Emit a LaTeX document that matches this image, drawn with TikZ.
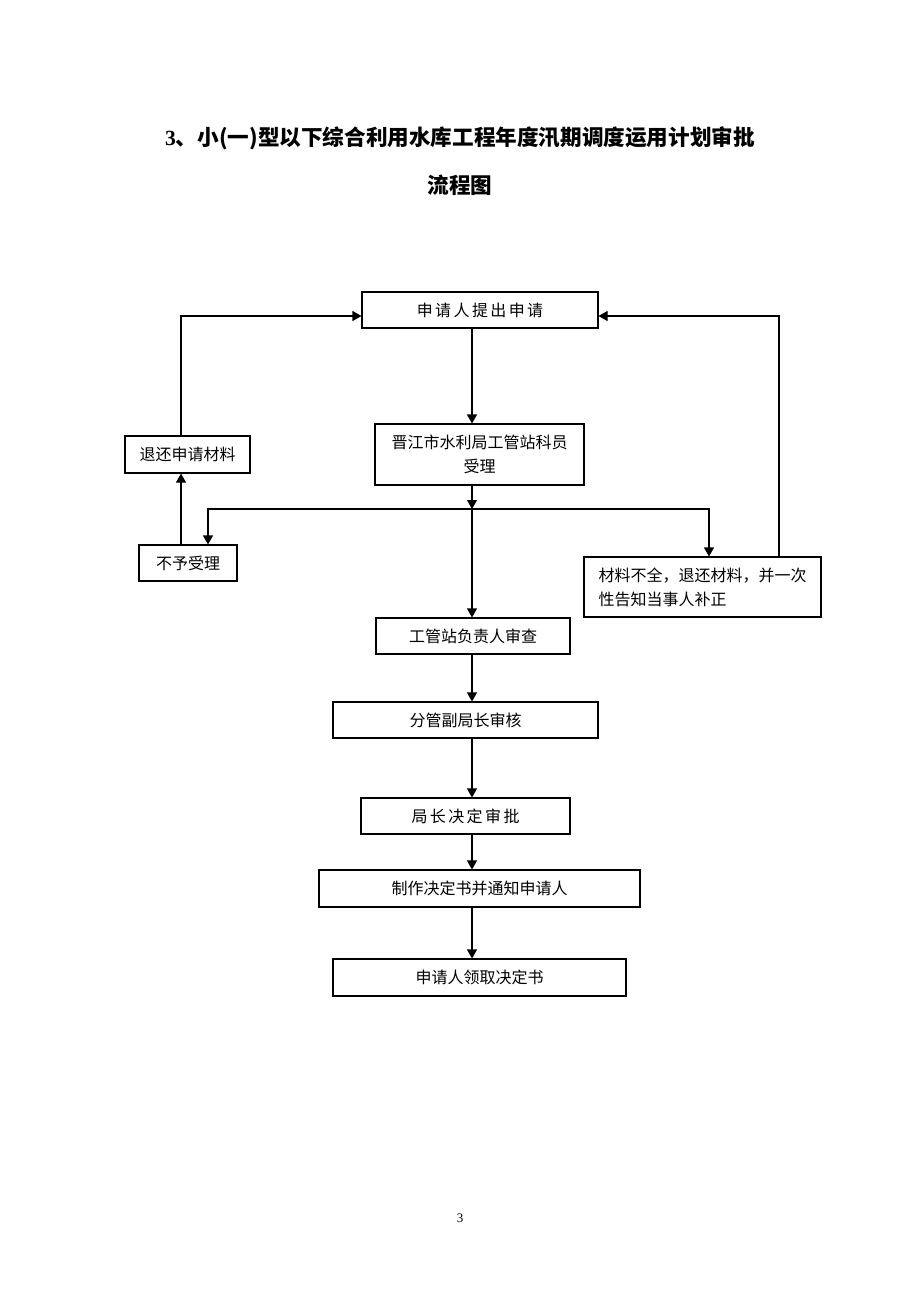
\documentclass[tikz,border=0pt]{standalone}
\usepackage{fontspec}
\setmainfont{Liberation Serif}
\newfontfamily\cjk{Noto Sans CJK SC}
\newfontfamily\cjkwide[LetterSpace=15]{Noto Sans CJK SC}
\usepackage{tikz}
\usetikzlibrary{positioning,calc,arrows.meta}
\tikzset{block/.style={draw,line width=1.1pt,minimum height=36pt,inner sep=2pt,align=center,font=\cjk\fontsize{16}{24}\selectfont},
         wide/.style={font=\cjkwide\fontsize{16}{24}\selectfont},
         line/.style={line width=1.1pt,-{Triangle[length=9pt,width=10pt]}}
}

\begin{document}
\begin{tikzpicture}[x=1pt,y=-1pt]
  \useasboundingbox (0,0) rectangle (920,1302);
  \node[font=\cjk\bfseries\fontsize{21.6}{26}\selectfont] (title) at (460,138) {{\rmfamily 3}、小(一)型以下综合利用水库工程年度汛期调度运用计划审批};
  \node[font=\cjk\bfseries\fontsize{21.6}{26}\selectfont] (title2) at (460,185) {流程图};
  \node[block,wide,minimum width=236pt] (apply) at (480,310) {申请人提出申请};
  \node[block,minimum width=209pt,minimum height=61pt] (accept) at (479.5,454.5) {晋江市水利局工管站科员\\受理};
  \node[block,minimum width=125pt,minimum height=37pt] (back) at (187.5,454.5) {退还申请材料};
  \node[block,minimum width=98pt] (reject) at (188,563) {不予受理};
  \node[block,align=left,minimum width=237pt,minimum height=60pt] (lack) at (702.5,587) {材料不全，退还材料，并一次\\性告知当事人补正};
  \node[block,minimum width=194pt] (check) at (473,636) {工管站负责人审查};
  \node[block,minimum width=265pt] (deputy) at (465.5,720) {分管副局长审核};
  \node[block,wide,minimum width=209pt] (chief) at (465.5,816) {局长决定审批};
  \node[block,minimum width=321pt,minimum height=37pt] (notify) at (479.5,888.5) {制作决定书并通知申请人};
  \node[block,minimum width=293pt,minimum height=37pt] (fetch) at (479.5,977.5) {申请人领取决定书};
  \node[font=\fontsize{13}{15}\selectfont] (page) at (460,1218) {3};
  \coordinate (mid) at (472,509);
  \draw[line] (apply.south -| mid) -- (accept.north -| mid);
  \draw[line] (accept.south -| mid) -- (mid);
  \draw[line] (mid) -- (check.north -| mid);
  \draw[line] (mid) -| ([xshift=20pt]reject.north);
  \draw[line] (mid) -| ([xshift=6.5pt]lack.north);
  \draw[line] ([xshift=-7pt]reject.north) -- ([xshift=-7pt]reject.north |- back.south);
  \draw[line] ([xshift=-6.5pt]back.north) |- ([yshift=-6pt]apply.west);
  \draw[line] ([xshift=76.5pt]lack.north) |- ([yshift=-6pt]apply.east);
  \draw[line] (check.south -| mid) -- (deputy.north -| mid);
  \draw[line] (deputy.south -| mid) -- (chief.north -| mid);
  \draw[line] (chief.south -| mid) -- (notify.north -| mid);
  \draw[line] (notify.south -| mid) -- (fetch.north -| mid);
\end{tikzpicture}
\end{document}
